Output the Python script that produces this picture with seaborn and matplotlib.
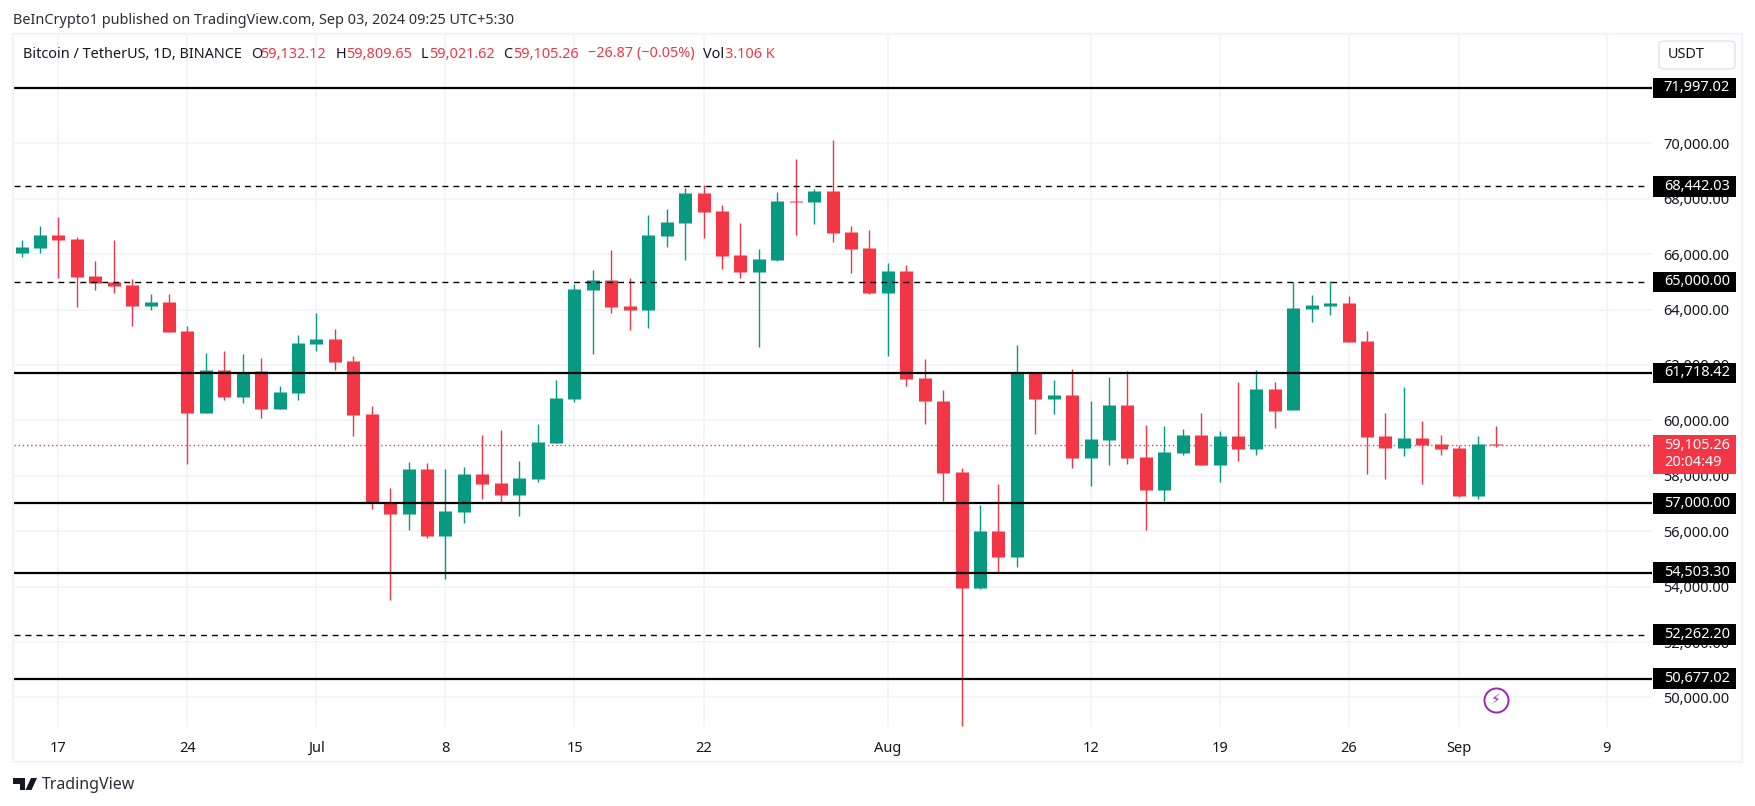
import numpy as np
import pandas as pd
import seaborn as sns
import matplotlib.pyplot as plt
from matplotlib.patches import Rectangle, Polygon, Circle, FancyBboxPatch
from matplotlib.transforms import blended_transform_factory

# daily candles, Jun 15 - Sep 3 2024
opens = [66041, 66221, 66691, 66546, 65210, 64994, 64886, 64127, 64272, 63225, 60264, 61817, 60842, 61781, 60409, 60987,
         62756, 62936, 62142, 60228, 57015, 56618, 58243, 55824, 56690, 58062, 57737, 57304, 57881, 59182, 60770, 64705,
         65066, 64127, 63983, 66655, 67124, 68208, 67557, 65969, 65355, 65788, 67918, 67882, 68279, 66799, 66221,
         64597, 65391, 61528, 60712, 58149, 53961, 56019, 55080, 61711, 60785, 60929, 58655, 59304, 60568, 58691, 57499,
         58835, 59485, 58402, 59449, 58979, 61146, 60366, 64012, 64120, 64229, 62857, 59427, 58994, 59355, 59138,
         58994, 57261, 59132.12]
highs = [66510, 67016, 67340, 66618, 65752, 66510, 65102, 64561, 64561, 63405, 62431, 62503, 62395, 62250, 61239, 63080,
         63875, 63297, 62322, 60517, 57557, 58496, 58460, 58243, 58315, 59470, 59651, 58532, 59867, 61456, 64922, 65427,
         66149, 65138, 67413, 67629, 68388, 68496, 67774, 67124, 66185, 68243, 69434, 68351, 70120, 67016, 66871,
         65680, 65608, 62214, 61110, 58294, 56958, 57716, 62734, 61711, 61470, 61868, 60712, 61579, 61796, 59846, 59810,
         59702, 60279, 59629, 61398, 61832, 61398, 65011, 64517, 65023, 64481, 63218, 60257, 61196, 59969, 59463,
         59102, 59427, 59809.65]
lows = [65896, 66041, 65138, 64091, 64705, 64597, 63405, 63983, 63189, 58423, 60264, 60734, 60626, 60084, 60409, 60734,
        62503, 61817, 59434, 56799, 53513, 56040, 55752, 54271, 56293, 57160, 57015, 56546, 57773, 59182, 60662, 62395,
        63875, 63261, 63333, 66258, 65788, 66583, 65463, 65138, 62647, 65752, 66691, 67088, 66438, 65319, 64560,
        62322, 61239, 59867, 57102, 48979, 53925, 54539, 54720, 59521, 60243, 58294, 57644, 58402, 58438, 56055, 57102,
        58763, 58402, 57788, 58546, 58763, 59738, 60366, 63543, 63795, 62821, 58055, 57875, 58705, 57694, 58741,
        57225, 57153, 59021.62]
closes = [66257, 66691, 66510, 65174, 64958, 64850, 64127, 64272, 63189, 60264, 61817, 60842, 61757, 60409, 61023, 62792,
          62936, 62106, 60192, 57015, 56618, 58243, 55824, 56726, 58062, 57701, 57304, 57917, 59218, 60806, 64741, 65066,
          64091, 63983, 66691, 67160, 68208, 67522, 65933, 65355, 65824, 67918, 67890, 68279, 66763, 66185, 64597,
          65391, 61492, 60698, 58113, 53961, 56019, 55080, 61711, 60785, 60929, 58655, 59340, 60568, 58655, 57499, 58871,
          59485, 58402, 59449, 58979, 61146, 60351, 64048, 64156, 64229, 62821, 59391, 58994, 59355, 59102, 58958,
          57261, 59138, 59105.26]

solid_levels = [71997.02, 61718.42, 57000.00, 54503.30, 50677.02]
dashed_levels = [68442.03, 65000.00, 52262.20]
last_price = 59105.26
price_ticks = list(range(50000, 70001, 2000))
time_ticks = [2, 9, 16, 23, 30, 37, 47, 58, 65, 72, 78, 86]
time_labels = ['17', '24', 'Jul', '8', '15', '22', 'Aug', '12', '19', '26', 'Sep', '9']
bold_labels = ['Jul', 'Aug', 'Sep']

GREEN = '#089981'
RED = '#F23645'
GRID = '#F0F3FA'
INK = '#131722'
W, H = 1755, 806

sns.set_theme(style='white')
plt.rcParams['font.family'] = ['Noto Sans', 'DejaVu Sans']


def fx(px):
    return px / W


def fy(py):
    return 1 - py / H


fig = plt.figure(figsize=(W / 100, H / 100), dpi=100, facecolor='white')
ax = fig.add_axes([fx(14), fy(727), (1652 - 14) / W, (727 - 35) / H])
ax.set_facecolor('white')
for s in ax.spines.values():
    s.set_visible(False)

dates = pd.date_range('2024-06-15', periods=len(opens))
days = (dates - dates[0]).days
df = pd.DataFrame({'day': days, 'open': opens, 'high': highs, 'low': lows, 'close': closes})
df['dir'] = np.where(df['close'] >= df['open'], 'up', 'down')
pal = {'up': GREEN, 'down': RED}

wicks = df.melt(id_vars=['day', 'dir'], value_vars=['low', 'high'], value_name='price')
bodies = df.melt(id_vars=['day', 'dir'], value_vars=['open', 'close'], value_name='price')
sns.lineplot(data=wicks, x='day', y='price', hue='dir', palette=pal, units='day', estimator=None,
             sort=False, legend=False, linewidth=1.0, solid_capstyle='butt', zorder=3, ax=ax)
sns.lineplot(data=bodies, x='day', y='price', hue='dir', palette=pal, units='day', estimator=None,
             sort=False, legend=False, linewidth=9.4, solid_capstyle='butt', zorder=3.1, ax=ax)

ax.set_xlim(-0.41, 88.46)
ax.set_ylim(48932, 73910)
ax.set_xlabel('')
ax.set_ylabel('')

ax.set_xticks(time_ticks)
ax.set_xticklabels(time_labels, fontsize=10.5, color=INK)
for t in ax.get_xticklabels():
    if t.get_text() in bold_labels:
        t.set_fontweight('bold')
ax.set_yticks(price_ticks)
ax.set_yticklabels([f'{v:,.2f}' for v in price_ticks], fontsize=10.5, color=INK)
ax.yaxis.tick_right()
ax.tick_params(axis='y', length=0, pad=8)
ax.tick_params(axis='x', length=0, pad=10)
ax.grid(True, color=GRID, linewidth=1.1)
ax.set_axisbelow(True)

ax.axhline(last_price, color=RED, linewidth=1, linestyle=(0, (1, 2)), zorder=2)
for v in solid_levels:
    ax.axhline(v, color='black', linewidth=1.6, zorder=4)
for v in dashed_levels:
    ax.plot([-0.41, 88.1], [v, v], color='black', linewidth=1.0, linestyle=(0, (4.3, 3.6)), zorder=4)

# price tags on the scale
tag_trans = blended_transform_factory(fig.transFigure, ax.transData)
for v in solid_levels + dashed_levels:
    ax.add_patch(Rectangle((fx(1653), v - 370), (1736 - 1653) / W, 740, transform=tag_trans,
                           facecolor='black', edgecolor='none', clip_on=False, zorder=5))
    ax.text(fx(1697), v, f'{v:,.2f}', transform=tag_trans, color='white', fontsize=10.5,
            ha='center', va='center', zorder=6, clip_on=False)
ax.add_patch(Rectangle((fx(1653), last_price - 1050), (1736 - 1653) / W, 1400, transform=tag_trans,
                       facecolor=RED, edgecolor='none', clip_on=False, zorder=5))
ax.text(fx(1697), last_price, f'{last_price:,.2f}', transform=tag_trans, color='white', fontsize=10.5,
        ha='center', va='center', zorder=6)
ax.text(fx(1664), last_price - 620, '20:04:49', transform=tag_trans, color='white', fontsize=10.5,
        ha='left', va='center', zorder=6)

# lightning marker under the last bar
ax.scatter([80], [49910], s=300, facecolor='white', edgecolor='#9C27B0', linewidth=1.4, zorder=5)
ax.text(80, 49910, '\u26a1', color='#9C27B0', fontsize=10, ha='center', va='center', zorder=6,
        family='DejaVu Sans')

# outer frame
fig.add_artist(Rectangle((fx(12.5), fy(762)), (1742 - 12.5) / W, (762 - 34) / H, transform=fig.transFigure,
                         facecolor='none', edgecolor=GRID, linewidth=1.6))

fig.text(fx(13), fy(21), 'BeInCrypto1 published on TradingView.com, Sep 03, 2024 09:25 UTC+5:30',
         fontsize=10.4, color='#2A2E39', va='center')
fig.text(fx(23), fy(54), 'Bitcoin / TetherUS, 1D, BINANCE', fontsize=10.4, color=INK, va='center')
for x, s, c in [(251, 'O', INK), (260, '59,132.12', RED), (336, 'H', INK), (346, '59,809.65', RED),
                (421, 'L', INK), (429, '59,021.62', RED), (503, 'C', INK), (513, '59,105.26', RED),
                (588, '\u221226.87 (\u22120.05%)', RED), (703, 'Vol', INK), (725, '3.106 K', RED)]:
    fig.text(fx(x), fy(54), s, fontsize=10.4, color=c, va='center')

# currency button
fig.add_artist(FancyBboxPatch((fx(1659), fy(69)), (1735 - 1659) / W, (69 - 41) / H, transform=fig.transFigure,
                              boxstyle='round,pad=0,rounding_size=0.004', mutation_aspect=H / W * 2,
                              facecolor='white', edgecolor='#E0E3EB', linewidth=1))
fig.text(fx(1668), fy(54), 'USDT', fontsize=10.4, color=INK, va='center')

# footer logo
logo = [[(13, 778), (25, 778), (25, 790), (19.5, 790), (19.5, 784), (13, 784)],
        [(31, 778), (37, 778), (31.5, 790), (25.5, 790)]]
for pts in logo:
    fig.add_artist(Polygon([(fx(a), fy(b)) for a, b in pts], transform=fig.transFigure,
                           facecolor=INK, edgecolor='none'))
fig.text(fx(42), fy(785), 'TradingView', fontsize=11.5, color='#2A2E39', va='center')

fig.savefig('out.png', dpi=100, facecolor='white')
